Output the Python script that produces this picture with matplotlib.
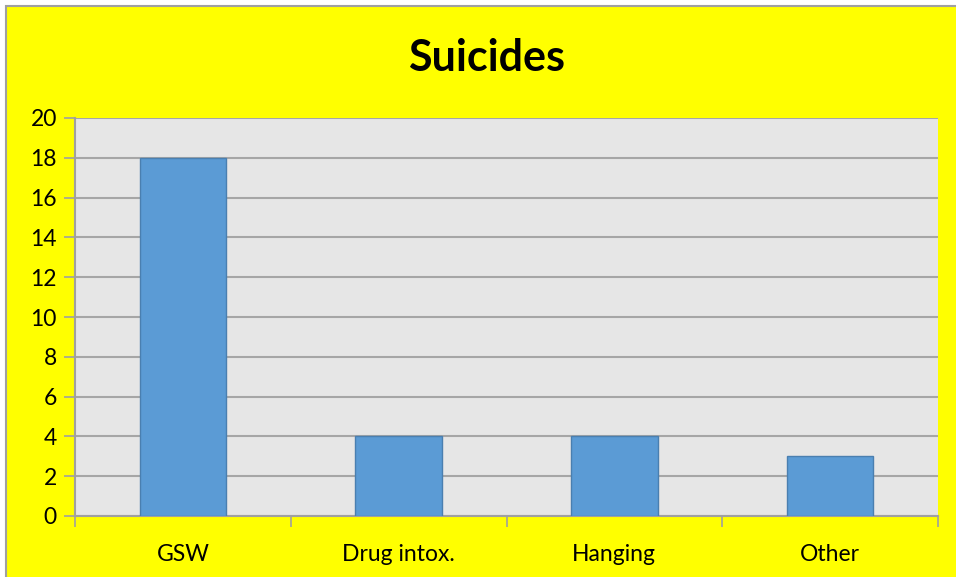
import matplotlib
matplotlib.use("Agg")
import matplotlib.pyplot as plt
from matplotlib.patches import Rectangle

categories = ["GSW", "Drug intox.", "Hanging", "Other"]
counts = [18, 4, 4, 3]
yticks = list(range(0, 21, 2))

plt.rcParams['font.family'] = ['Lato', 'DejaVu Sans']

fig = plt.figure(figsize=(9.56, 5.77), dpi=100, facecolor="white")
# yellow chart area with grey frame (bottom and right edges run off the image)
fig.patches.append(Rectangle((5.5 / 956, -0.02), 1.05, 1.02 - 6.5 / 577, transform=fig.transFigure,
                             facecolor="#ffff00", edgecolor="#a0a0a0", linewidth=1.5, zorder=-5))

ax = fig.add_axes([75 / 956, 61 / 577, 863 / 956, 398 / 577])
ax.set_zorder(2)
ax.set_facecolor("#e6e6e6")
x = range(len(categories))
ax.bar(x, counts, width=0.4, color="#5b9bd5", edgecolor="#4a7fb0", linewidth=1, zorder=3)

ax.set_ylim(0, 20)
ax.set_xlim(-0.5, len(categories) - 0.5)
ax.set_yticks(yticks)
ax.set_yticklabels([str(t) for t in yticks], fontsize=16.5)
ax.set_xticks(list(x))
ax.set_xticklabels(categories, fontsize=16.5)
ax.tick_params(axis="x", length=0, pad=20)
ax.tick_params(axis="y", length=8, color="#a0a0a0", width=1.2, pad=5)
ax.set_xticks([i - 0.5 for i in range(len(categories) + 1)], minor=True)
ax.tick_params(axis="x", which="minor", length=8, color="#a0a0a0", width=1.2)

ax.grid(axis="y", color="#a6a6a6", linewidth=1.5, zorder=1)
ax.set_axisbelow(True)
for s in ["top", "right"]:
    ax.spines[s].set_visible(False)
for s in ["left", "bottom"]:
    ax.spines[s].set_color("#a0a0a0")
    ax.spines[s].set_linewidth(1.5)

fig.text(487 / 956, 1 - 58 / 577, "Suicides", ha="center", va="center",
         fontsize=31, fontweight="bold", color="black", zorder=3)

fig.savefig("out.png", dpi=100, facecolor=fig.get_facecolor())
